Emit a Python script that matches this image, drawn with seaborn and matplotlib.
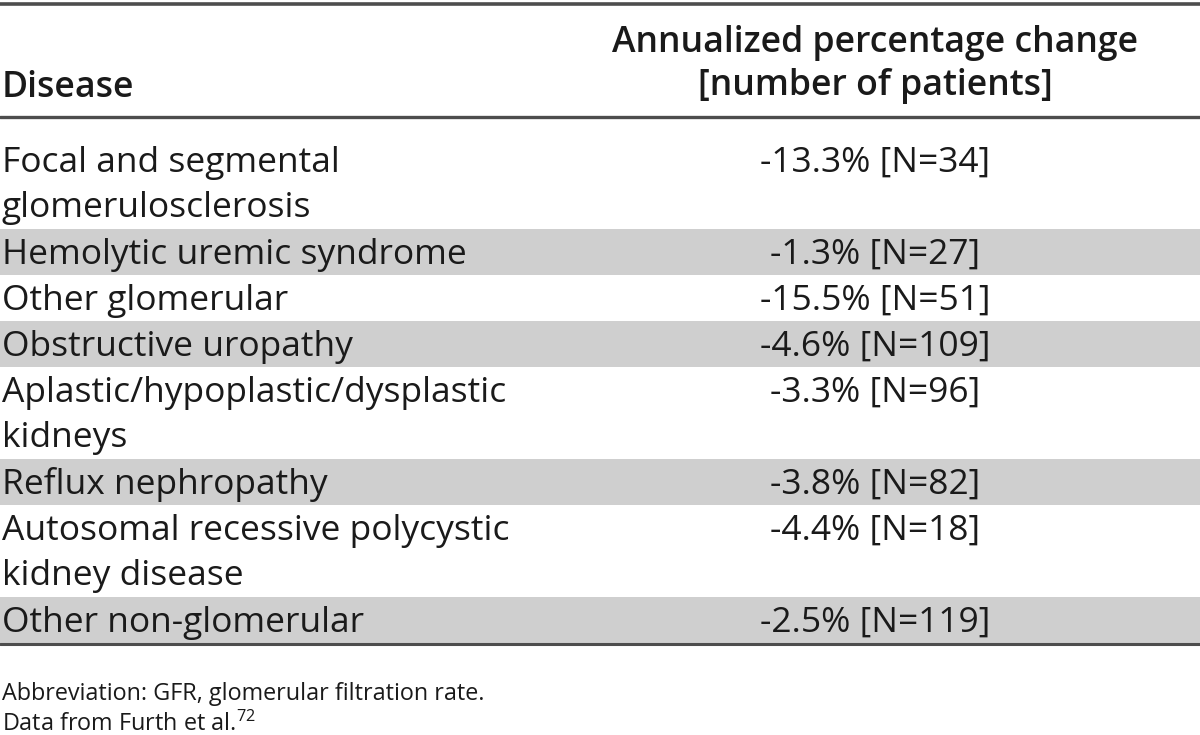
import matplotlib
matplotlib.use("Agg")
import matplotlib.pyplot as plt
import seaborn as sns

# table content
diseases = ["Focal and segmental\nglomerulosclerosis",
            "Hemolytic uremic syndrome",
            "Other glomerular",
            "Obstructive uropathy",
            "Aplastic/hypoplastic/dysplastic\nkidneys",
            "Reflux nephropathy",
            "Autosomal recessive polycystic\nkidney disease",
            "Other non-glomerular"]
pct_change = [-13.3, -1.3, -15.5, -4.6, -3.3, -3.8, -4.4, -2.5]
n_patients = [34, 27, 51, 109, 96, 82, 18, 119]
header = ["Disease", "Annualized percentage change\n[number of patients]"]
footnotes = ["Abbreviation: GFR, glomerular filtration rate.",
             r"Data from Furth et al.$^{\mathregular{72}}$"]

sns.set_theme(style="white")
plt.rcParams['font.family'] = ['Open Sans', 'DejaVu Sans']

W, H = 1200, 735
fig = plt.figure(figsize=(12, 7.35), dpi=100)
ax = fig.add_axes([0, 0, 1, 1])
ax.set_xlim(0, W)
ax.set_ylim(H, 0)
ax.axis("off")

txt_col = "#1a1a1a"
shade = "#cfcfcf"
rule = "#4d4d4d"

# fit font sizes to the widths in the original
renderer = fig.canvas.get_renderer()
def fit(s, target, **kw):
    t = ax.text(0, 0, s, fontsize=20, **kw)
    w = t.get_window_extent(renderer).width
    t.remove()
    return 20 * target / w

fs_body = fit("Hemolytic uremic syndrome", 463)
fs_head = fit("Annualized percentage change", 526, fontweight="semibold")
fs_foot = fit(footnotes[0], 483)

# rules
ax.plot([0, W], [4, 4], color=rule, lw=2.6)
ax.plot([0, W], [117, 117], color=rule, lw=2.4)

# header
ax.text(2, 97, header[0], fontsize=fs_head, fontweight="semibold", color=txt_col,
        ha="left", va="baseline")
h1, h2 = header[1].split("\n")
ax.text(875, 52, h1, fontsize=fs_head, fontweight="semibold", color=txt_col,
        ha="center", va="baseline")
ax.text(875, 95, h2, fontsize=fs_head, fontweight="semibold", color=txt_col,
        ha="center", va="baseline")

# body rows
line_h = 46
top = 117 + 20
for i, (d, p, n) in enumerate(zip(diseases, pct_change, n_patients)):
    lines = d.split("\n")
    hgt = line_h * len(lines)
    if i % 2 == 1:
        ax.axhspan(top, top + hgt, color=shade, lw=0, zorder=0)
    for j, ln in enumerate(lines):
        ax.text(2, top + 35 + j * 45, ln, fontsize=fs_body, color=txt_col,
                ha="left", va="baseline")
    ax.text(875, top + 35, f"{p:.1f}% [N={n}]", fontsize=fs_body, color=txt_col,
            ha="center", va="baseline")
    top += hgt

ax.plot([0, W], [top + 1, top + 1], color=rule, lw=2.2)

# footnotes
ax.text(2, 700, footnotes[0], fontsize=fs_foot, color=txt_col, ha="left", va="baseline")
ax.text(2, 731, footnotes[1], fontsize=fs_foot, color=txt_col, ha="left", va="baseline")

fig.savefig("out.png", dpi=100)
